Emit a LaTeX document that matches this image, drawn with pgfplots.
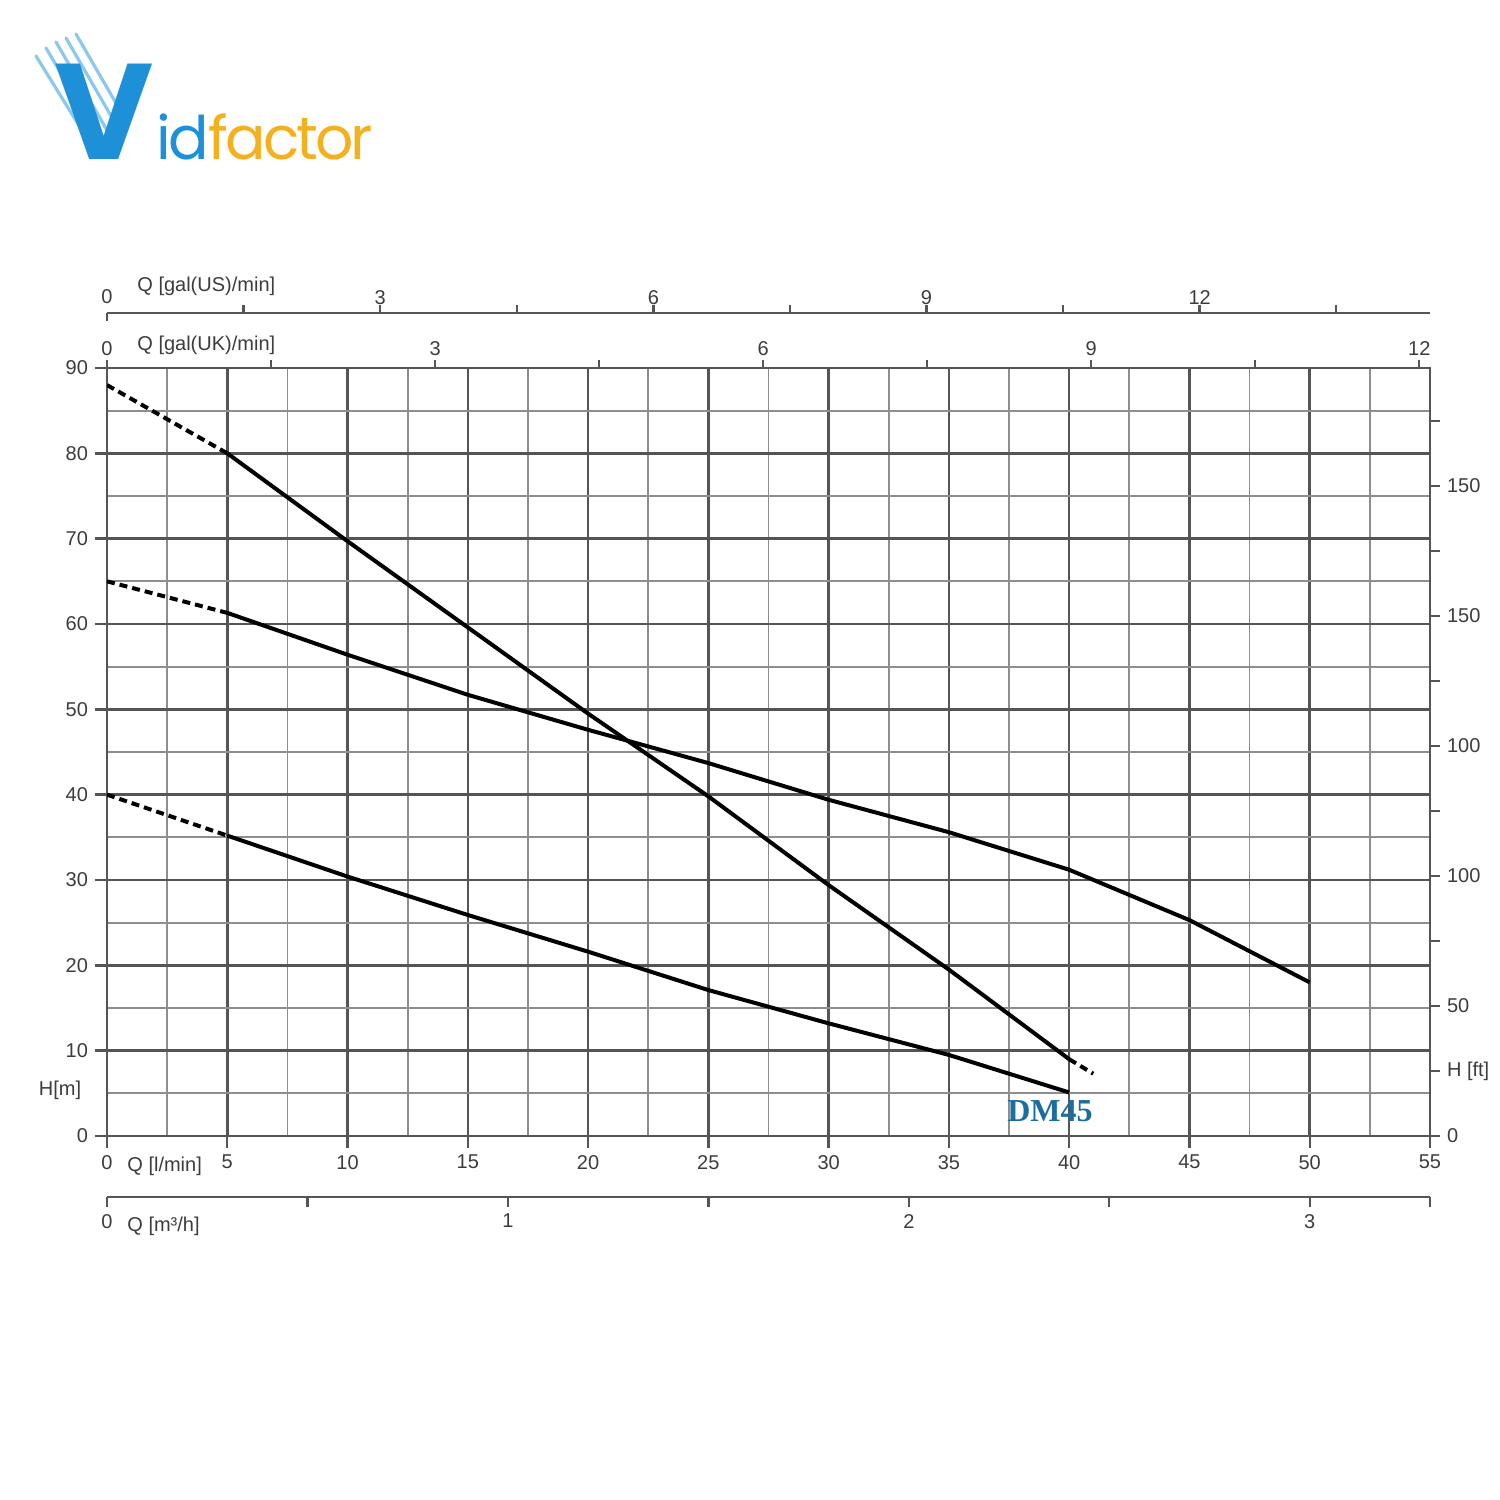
\documentclass[border=0pt]{standalone}
\usepackage{pgfplots}
\pgfplotsset{compat=1.18}
\usepackage{fontspec}
\setmainfont{Liberation Sans}
\newfontfamily\logofont{Poppins}
\newfontfamily\logofontn[LetterSpace=-5]{Poppins}
\newfontfamily\dmfont{Liberation Serif}
\definecolor{txt}{HTML}{3C3C3C}
\definecolor{gmaj}{HTML}{555555}
\definecolor{gmin}{HTML}{8E8E8E}
\definecolor{logoblue}{HTML}{1E90D8}
\definecolor{logolight}{HTML}{8CC8EE}
\definecolor{logoorange}{HTML}{F3B11F}
\definecolor{dmblue}{HTML}{1B6E9E}

\begin{document}
\begin{tikzpicture}[x=1pt,y=1pt]
\useasboundingbox (0,0) rectangle (750,750);
\pgfplotsset{
 base/.style={scale only axis, width=661.5pt, at={(53.5pt,182pt)}, anchor=south west,
  xmin=0, xmax=55,
  tick label style={font=\fontsize{10}{12}\selectfont, text=txt},
  /pgf/number format/assume math mode=true,
  axis line style={-, draw=gmaj, line width=1.4pt},
  major tick style={draw=gmaj, line width=1.2pt},
  minor tick style={draw=gmaj, line width=1.2pt},
 },
}
% main axis: Q [l/min] vs H [m]
\begin{axis}[base, height=384pt, ymin=0, ymax=90,
  xtick={0,5,...,55}, ytick={0,10,...,90},
  minor xtick={2.5,7.5,...,52.5}, minor ytick={5,15,...,85},
  grid=both,
  major grid style={draw=gmaj, line width=1.3pt},
  minor grid style={draw=gmin, line width=0.9pt},
  tick align=outside, major tick length=6pt, minor tick length=0pt,
  xtick pos=bottom, ytick pos=left]
\addplot[black, line width=2pt, dash pattern=on 4pt off 2.5pt] coordinates {(0,88) (5,80)};
\addplot[black, line width=2pt] coordinates {(5,80) (10,69.7) (15,59.6) (20,49.5) (25,39.8) (30,29.4) (35,19.5) (40,9)};
\addplot[black, line width=2pt, dash pattern=on 4pt off 2.5pt] coordinates {(40,9) (41,7.3)};
\addplot[black, line width=2pt, dash pattern=on 4pt off 2.5pt] coordinates {(0,65) (5,61.3)};
\addplot[black, line width=2pt] coordinates {(5,61.3) (10,56.4) (15,51.7) (20,47.6) (25,43.7) (30,39.4) (35,35.6) (40,31.2) (45,25.3) (50,18)};
\addplot[black, line width=2pt, dash pattern=on 4pt off 2.5pt] coordinates {(0,40) (5,35.2)};
\addplot[black, line width=2pt] coordinates {(5,35.2) (10,30.4) (15,25.9) (20,21.6) (25,17.1) (30,13.2) (35,9.5) (40,5.1)};
\end{axis}
% right axis: H [ft]
\begin{axis}[base, height=384pt, ymin=0, ymax=295.276,
  axis x line=none, axis y line*=right,
  ytick={0,50,100,150,200,250}, yticklabels={0,50,100,100,150,150},
  extra y ticks={25}, extra y tick labels={H [ft]},
  minor ytick={75,125,175,225,275},
  tick align=outside, major tick length=5pt, minor tick length=5pt]
\end{axis}
% top axis: gal(UK)/min
\begin{axis}[base, height=384pt, xmin=0, xmax=12.0983, ymin=0, ymax=1,
  axis y line=none, axis x line*=top,
  xtick={0,3,6,9,12}, minor xtick={1.5,4.5,7.5,10.5},
  xticklabel style={yshift=-1.5pt},
  tick align=outside, major tick length=4pt, minor tick length=4pt]
\end{axis}
% top axis: gal(US)/min
\begin{axis}[base, height=10pt, at={(53.5pt,593.5pt)}, anchor=north west,
  xmin=0, xmax=14.5297, ymin=0, ymax=1,
  axis y line=none, axis x line*=top,
  xtick={3,6,9,12}, minor xtick={1.5,4.5,7.5,10.5,13.5},
  xticklabel style={yshift=-3.5pt},
  extra x ticks={0}, extra x tick labels={},
  extra x tick style={tick align=inside, major tick length=4pt},
  tick align=outside, major tick length=4pt, minor tick length=4pt]
\end{axis}
% bottom axis: m3/h
\begin{axis}[base, height=10pt, at={(53.5pt,151.5pt)}, anchor=south west,
  xmin=0, xmax=3.3, ymin=0, ymax=1,
  axis y line=none, axis x line*=bottom,
  xtick={0,0.5,1,1.5,2,2.5,3,3.3}, xticklabels={0,,1,,2,,3,},
  tick align=outside, major tick length=5pt]
\end{axis}
% axis titles
\begin{scope}[every node/.style={inner sep=0, text=txt, font=\fontsize{10}{12}\selectfont}]
\node at (53.5,601.5) {0};
\node[anchor=west] at (68.5,607) {Q [gal(US)/min]};
\node[anchor=west] at (68.5,577.5) {Q [gal(UK)/min]};
\node[anchor=west] at (63.5,167) {Q [l/min]};
\node[anchor=west] at (63.5,137) {Q [m³/h]};
\node at (30,205) {H[m]};
\end{scope}
\node[inner sep=0, text=dmblue, font=\dmfont\bfseries\fontsize{16}{16}\selectfont] at (525,194.5) {DM45};
% logo
\foreach \a/\b/\c/\d in {18/722/44/680, 23/726/49/682, 28/729/54/684, 33/731/59/686, 38/733/64/688}
  \draw[logolight, line width=1.6pt, line cap=round] (\a,\b) -- (\c,\d);
\node[anchor=base west, inner sep=0, text=logoblue, font=\logofont\bfseries\fontsize{68}{68}\selectfont] at (27,670) {V};
\node[anchor=base west, inner sep=0, text=logoblue, font=\logofontn\fontsize{30}{30}\selectfont] at (78,670) {id\textcolor{logoorange}{factor}};
\end{tikzpicture}
\end{document}
